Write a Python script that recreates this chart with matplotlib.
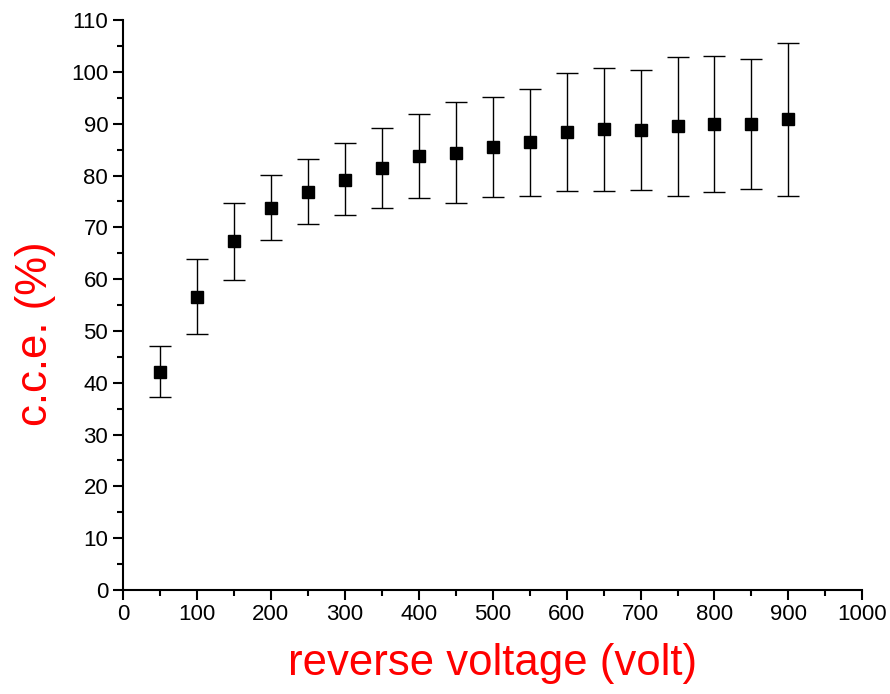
import matplotlib
matplotlib.use("Agg")
import matplotlib.pyplot as plt
from matplotlib.ticker import MultipleLocator

voltage = [50, 100, 150, 200, 250, 300, 350, 400, 450, 500, 550, 600, 650, 700, 750, 800, 850, 900]
cce = [42.0, 56.6, 67.3, 73.8, 76.9, 79.2, 81.4, 83.8, 84.4, 85.5, 86.5, 88.4, 89.0, 88.8, 89.5, 90.0, 90.0, 90.9]
err_top = [47.0, 63.8, 74.6, 80.1, 83.1, 86.2, 89.1, 91.8, 94.1, 95.2, 96.7, 99.7, 100.8, 100.4, 102.9, 103.1, 102.4, 105.6]
err_bot = [37.3, 49.5, 59.9, 67.5, 70.6, 72.3, 73.7, 75.7, 74.7, 75.8, 76.1, 77.0, 77.0, 77.2, 76.1, 76.8, 77.4, 76.1]

plt.rcParams['font.family'] = ['Liberation Sans', 'DejaVu Sans']

fig = plt.figure(figsize=(8.9, 6.94), dpi=100)
ax = fig.add_axes([0.138, 0.150, 0.831, 0.821])

lower = [c - b for c, b in zip(cce, err_bot)]
upper = [t - c for c, t in zip(cce, err_top)]
ax.errorbar(voltage, cce, yerr=[lower, upper], fmt='s', color='black',
            markersize=9, ecolor='black', elinewidth=1.0, capsize=8, capthick=1.0)

ax.set_xlim(0, 1000)
ax.set_ylim(0, 110)
ax.xaxis.set_major_locator(MultipleLocator(100))
ax.xaxis.set_minor_locator(MultipleLocator(50))
ax.yaxis.set_major_locator(MultipleLocator(10))
ax.yaxis.set_minor_locator(MultipleLocator(5))

for s in ['top', 'right']:
    ax.spines[s].set_visible(False)
for s in ['left', 'bottom']:
    ax.spines[s].set_linewidth(1.5)

ax.tick_params(which='major', direction='out', length=7, width=1.5, labelsize=16, colors='black')
ax.tick_params(which='minor', direction='out', length=4, width=1.5)

ax.set_xlabel('reverse voltage (volt)', color='red', fontsize=31.5)
ax.set_ylabel('c.c.e. (%)', color='red', fontsize=31.5)
ax.xaxis.set_label_coords(0.5, -0.093)
ax.yaxis.set_label_coords(-0.09, 0.45)

fig.savefig('out.png', dpi=100)
